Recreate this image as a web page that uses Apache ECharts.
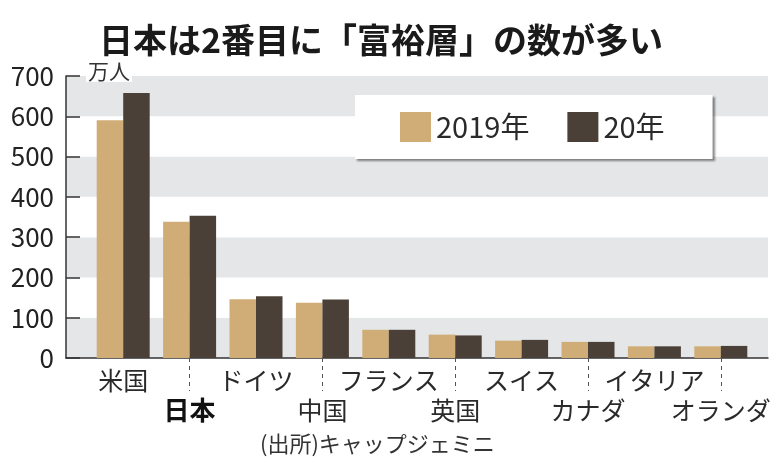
<!DOCTYPE html>
<html>
<head>
<meta charset="utf-8">
<script src="https://cdn.jsdelivr.net/npm/echarts@6/dist/echarts.min.js"></script>
<style>
html,body{margin:0;padding:0;background:#fff;}
#chart{width:784px;height:471px;}
</style>
</head>
<body>
<div id="chart"></div>
<script>
// 国名(カテゴリ)
let countries=['米国','日本','ドイツ','中国','フランス','英国','スイス','カナダ','イタリア','オランダ'];
// 富裕層の数(万人)
let values2019=[590,338,146,137,70,58,43,40,29,29];
let values2020=[658,353,153,145,70,56,45,40,29,30];
let seriesNames=['2019年','20年'];
let yTicks=[0,100,200,300,400,500,600,700];

let font='"Noto Sans CJK JP","Noto Sans",sans-serif';
let tan='#d0ad76';
let brown='#4b4037';

let chart=echarts.init(document.getElementById('chart'));
let option={
	backgroundColor:'#fff',
	textStyle:{fontFamily:font},
	animation:false,
	title:{
		text:'日本は2番目に「富裕層」の数が多い',
		left:94,
		top:18,
		textStyle:{fontSize:34,fontWeight:'bold',color:'#1a1a1a',fontFamily:font}
	},
	legend:{
		data:seriesNames,
		left:355,
		top:95,
		icon:'rect',
		itemWidth:31,
		itemHeight:30,
		itemGap:38,
		padding:[17,48,17,45],
		backgroundColor:'#fff',
		shadowColor:'rgba(0,0,0,0.45)',
		shadowBlur:2,
		shadowOffsetX:2,
		shadowOffsetY:2,
		textStyle:{fontSize:29,color:'#2a2a2a',fontFamily:font}
	},
	grid:[
		{left:66,right:16,top:76,bottom:113},
		{left:90,right:30,top:76,bottom:113}
	],
	xAxis:[
		{
			gridIndex:0,type:'value',min:0,max:1,
			axisLine:{show:true,lineStyle:{color:'#333',width:1.5}},
			axisTick:{show:false},axisLabel:{show:false},splitLine:{show:false}
		},
		{
			gridIndex:1,type:'category',data:countries,
			axisLine:{show:false},
			axisTick:{
				show:true,alignWithLabel:true,length:33,
				interval:function(idx){return idx%2===1;},
				lineStyle:{color:'#555',width:1,type:[4,4]}
			},
			axisLabel:{
				interval:0,margin:7,fontSize:25,lineHeight:30,color:'#2a2a2a',fontFamily:font,
				formatter:function(value,idx){
					if(idx%2===0){
						return value;
					}
					if(value==='日本'){
						return '\n{b|'+value+'}';
					}
					return '\n'+value;
				},
				rich:{
					b:{fontSize:26,fontWeight:'bold',color:'#111',lineHeight:30,fontFamily:font}
				}
			}
		}
	],
	yAxis:[
		{
			gridIndex:0,type:'value',min:yTicks[0],max:yTicks[yTicks.length-1],interval:100,
			axisLine:{show:true,lineStyle:{color:'#333',width:1.5}},
			axisTick:{show:true,inside:true,length:14,lineStyle:{color:'#333',width:1.5}},
			axisLabel:{fontSize:26,color:'#222',margin:12,fontFamily:font},
			splitLine:{show:false},
			splitArea:{show:true,areaStyle:{color:['#e4e6e8','#ffffff']}}
		},
		{
			gridIndex:1,type:'value',min:yTicks[0],max:yTicks[yTicks.length-1],show:false
		}
	],
	series:[
		{
			name:seriesNames[0],type:'bar',xAxisIndex:1,yAxisIndex:1,
			data:values2019,barWidth:26.5,barGap:'0%',
			itemStyle:{color:tan}
		},
		{
			name:seriesNames[1],type:'bar',xAxisIndex:1,yAxisIndex:1,
			data:values2020,barWidth:26.5,barGap:'0%',
			itemStyle:{color:brown}
		}
	],
	graphic:[
		{
			type:'text',left:86,top:61,z:100,
			style:{text:'万人',fontSize:21,fill:'#333',fontFamily:font,backgroundColor:'#fff',padding:[0,2,0,2]}
		},
		{
			type:'text',left:260,top:433,z:100,
			style:{text:'(出所)キャップジェミニ',fontSize:22,fill:'#333',fontFamily:font}
		}
	]
};
chart.setOption(option);
</script>
</body>
</html>
